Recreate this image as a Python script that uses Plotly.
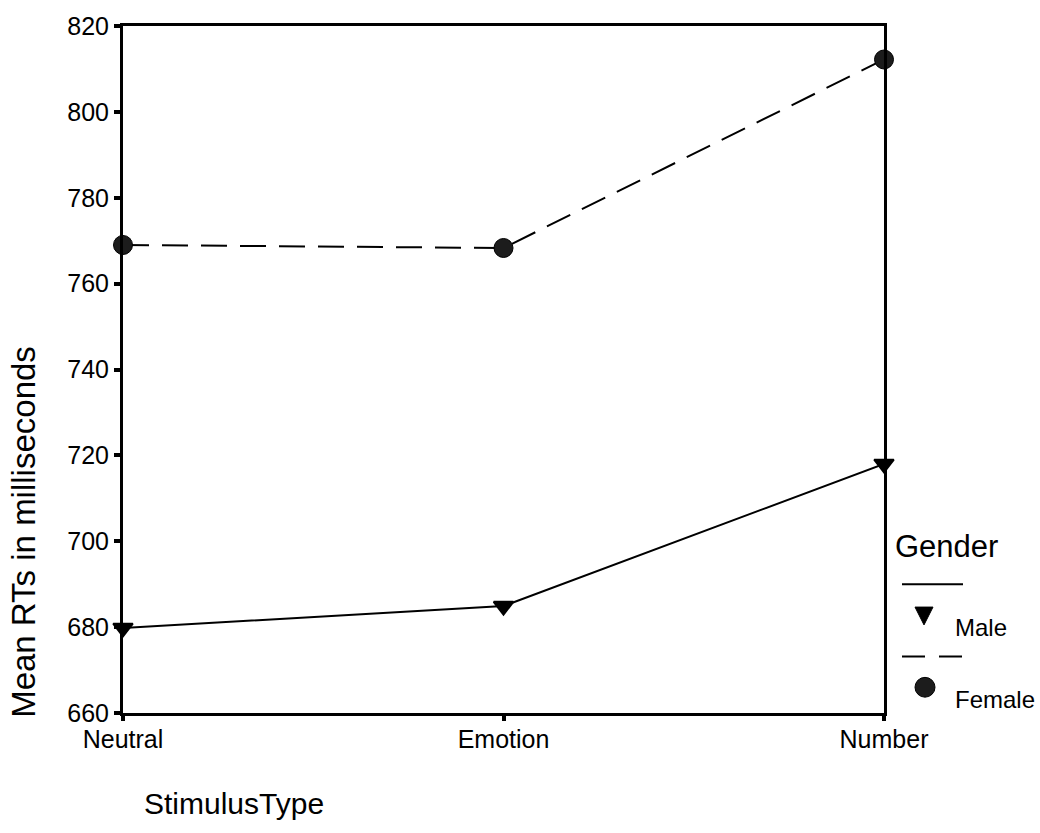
import plotly.graph_objects as go

# Mean reaction times by stimulus type and gender
stimulus_types = ["Neutral", "Emotion", "Number"]
male_rt = [679.8, 684.9, 718.0]
female_rt = [769.0, 768.3, 812.2]
y_ticks = [660, 680, 700, 720, 740, 760, 780, 800, 820]

W, H = 1040, 833
L, R, T, B = 123, 156, 19, 120
FONT = "Liberation Sans, Arial, sans-serif"


def px(x):
    return (x - L) / (W - L - R)


def py(y):
    return (H - B - y) / (H - T - B)


x_pos = list(range(len(stimulus_types)))

fig = go.Figure()
fig.add_trace(go.Scatter(
    x=x_pos, y=male_rt, mode="lines+markers", name="Male",
    line=dict(color="black", width=2),
    marker=dict(symbol="triangle-down", size=17, color="black",
                line=dict(color="black", width=2)),
    cliponaxis=False, showlegend=False,
))
fig.add_trace(go.Scatter(
    x=x_pos, y=female_rt, mode="lines+markers", name="Female",
    line=dict(color="black", width=2, dash="26px,13px"),
    marker=dict(symbol="circle", size=19, color="#1c1c1c",
                line=dict(color="black", width=1)),
    cliponaxis=False, showlegend=False,
))

axis_common = dict(
    showline=True, mirror=True, linecolor="black", linewidth=3,
    ticks="outside", tickcolor="black", tickwidth=4,
    showgrid=False, zeroline=False,
    tickfont=dict(family=FONT, size=25, color="black"),
)
fig.update_xaxes(range=[0, 2], tickvals=x_pos, ticktext=stimulus_types,
                 ticklen=5, ticklabelstandoff=-3, **axis_common)
fig.update_yaxes(range=[660, 820], tickvals=y_ticks, ticklen=6, **axis_common)

# Legend block drawn at the right of the plot
shapes = [
    dict(type="line", xref="paper", yref="paper",
         x0=px(902), x1=px(963), y0=py(583), y1=py(583),
         line=dict(color="black", width=2)),
    dict(type="line", xref="paper", yref="paper",
         x0=px(902), x1=px(963), y0=py(656), y1=py(656),
         line=dict(color="black", width=2, dash="23px,14px")),
    dict(type="path", xref="paper", yref="paper",
         path=f"M{px(915)},{py(606)} L{px(933)},{py(606)} L{px(924)},{py(624)} Z",
         fillcolor="black", line=dict(color="black", width=1)),
    dict(type="circle", xref="paper", yref="paper",
         x0=px(915), x1=px(935), y0=py(677), y1=py(697),
         fillcolor="#1c1c1c", line=dict(color="black", width=1)),
]

annotations = [
    dict(text="Gender", xref="paper", yref="paper", x=px(893), y=py(545),
         xanchor="left", yanchor="middle", showarrow=False,
         font=dict(family=FONT, size=31, color="black")),
    dict(text="Male", xref="paper", yref="paper", x=px(953), y=py(627),
         xanchor="left", yanchor="middle", showarrow=False,
         font=dict(family=FONT, size=24, color="black")),
    dict(text="Female", xref="paper", yref="paper", x=px(953), y=py(699),
         xanchor="left", yanchor="middle", showarrow=False,
         font=dict(family=FONT, size=24, color="black")),
    dict(text="Mean RTs in milliseconds", xref="paper", yref="paper",
         x=px(24), y=py(530), textangle=-90,
         xanchor="center", yanchor="middle", showarrow=False,
         font=dict(family=FONT, size=33, color="black")),
    dict(text="StimulusType", xref="paper", yref="paper",
         x=px(142), y=py(804), xanchor="left", yanchor="middle",
         showarrow=False, font=dict(family=FONT, size=30, color="black")),
]

fig.update_layout(
    width=W, height=H, autosize=False,
    margin=dict(l=L, r=R, t=T, b=B, pad=0),
    paper_bgcolor="white", plot_bgcolor="white",
    font=dict(family=FONT, color="black"),
    shapes=shapes, annotations=annotations, showlegend=False,
)

fig.write_html("out.html")
